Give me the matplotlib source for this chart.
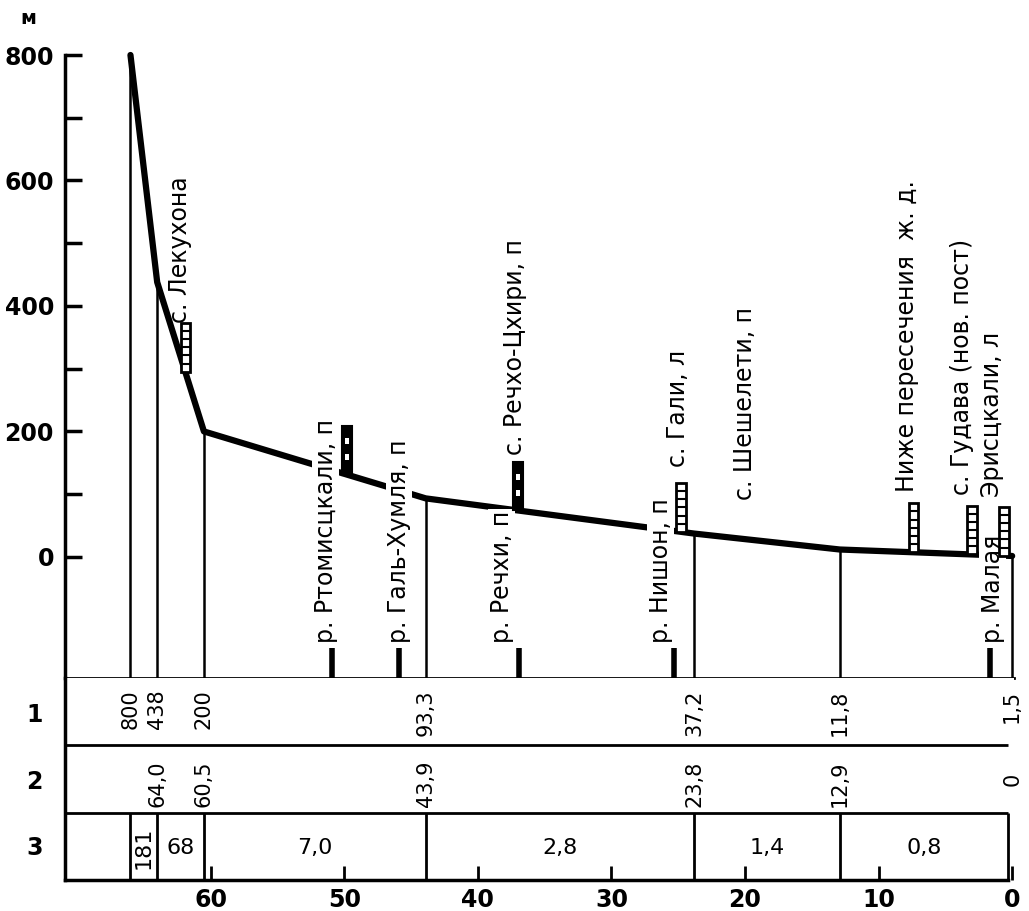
import numpy as np
import matplotlib.pyplot as plt
from matplotlib.patches import Rectangle

# продольный профиль реки: расстояние от устья (км) и отметки (м)
dist_km = [66.0, 64.0, 60.5, 43.9, 23.8, 12.9, 0.0]
elev_m = [800, 438, 200, 93.3, 37.2, 11.8, 1.5]
row1 = ['800', '438', '200', '93,3', '37,2', '11,8', '1,5']
row2 = ['', '64,0', '60,5', '43,9', '23,8', '12,9', '0']
row3 = ['181', '68', '7,0', '2,8', '1,4', '0,8']

# притоки
trib_names = ['р. Ртомисцкали, п', 'р. Галь-Хумля, п', 'р. Речхи, п', 'р. Нишон, п', 'р. Малая']
trib_km = [50.9, 45.9, 36.9, 25.3, 1.65]

# населённые пункты (km, тип значка)
sett_km = [61.9, 49.8, 37.0, 24.8, 7.4, 3.0, 0.6]
sett_kind = ['open', 'filled', 'filled', 'open', 'open', 'open', 'open']

# подписи над профилем: текст, км, отметка низа подписи
top_labels = ['с. Лекухона', 'с. Речхо-Цхири, п', 'с. Гали, л', 'с. Шешелети, п',
              'Ниже пересечения  ж. д.', 'с. Гудава (нов. пост)', 'Эрисцкали, л']
top_km = [62.3, 37.2, 25.0, 20.0, 7.9, 3.75, 1.5]
top_bottom = [373, 163, 143, 91, 104, 99, 96]

xl = (70.9, -0.1)
fig = plt.figure(figsize=(10.29, 9.11), dpi=100)
L, R = 65 / 1029, 1013.5 / 1029
ax = fig.add_axes([L, 233 / 911, R - L, 623 / 911])
tab = fig.add_axes([L, 31 / 911, R - L, 202 / 911])

ymin = -193
ax.set_xlim(*xl)
ax.set_ylim(ymin, 800)
for s in ['top', 'right']:
    ax.spines[s].set_visible(False)
ax.spines['left'].set_linewidth(2.5)
ax.spines['bottom'].set_linewidth(2)
ax.set_xticks([])
ax.set_yticks([0, 200, 400, 600, 800])
ax.set_yticks([100, 300, 500, 700], minor=True)
ax.tick_params(axis='y', which='both', direction='in', length=12, width=2.5,
               labelsize=17, pad=8)
for t in ax.get_yticklabels():
    t.set_fontweight('bold')

# профиль
ax.plot(dist_km, elev_m, color='black', lw=4.5, solid_joinstyle='round',
        solid_capstyle='round', clip_on=False, zorder=3)
ax.vlines(dist_km, ymin, elev_m, color='black', lw=1.8, zorder=2)

# притоки
ax.vlines(trib_km, ymin, -145, color='black', lw=4, zorder=2)
shift = [0.5, 0.0, 1.3, 1.0, -0.2]
for name, k, sh in zip(trib_names, trib_km, shift):
    ax.text(k + sh, -137, name, rotation=90, ha='center', va='bottom', fontsize=17,
            bbox=dict(facecolor='white', edgecolor='none', pad=1.0), zorder=4)

# значки населённых пунктов
w, h = 0.7, 78
for k, kind in zip(sett_km, sett_kind):
    base = np.interp(k, dist_km[::-1], elev_m[::-1])
    if kind == 'filled':
        ax.add_patch(Rectangle((k - w / 2, base), w, h, facecolor='black',
                               edgecolor='black', lw=1.5, zorder=5))
        for f in [0.3, 0.62]:
            ax.add_patch(Rectangle((k - w / 5, base + f * h), w * 0.4, h * 0.12,
                                   facecolor='white', edgecolor='none', zorder=6))
    else:
        ax.add_patch(Rectangle((k - w / 2, base), w, h, facecolor='white',
                               edgecolor='black', lw=2, zorder=5))
        ax.hlines(base + np.linspace(0, h, 7)[1:-1], k - w / 2, k + w / 2,
                  color='black', lw=1.5, zorder=6)

for name, k, b in zip(top_labels, top_km, top_bottom):
    ax.text(k, b, name, rotation=90, ha='center', va='bottom', fontsize=17, zorder=4)

# таблица
tab.set_xlim(*xl)
tab.set_ylim(0, 3)
for s in ['top', 'right']:
    tab.spines[s].set_visible(False)
tab.spines['left'].set_linewidth(2.5)
tab.spines['bottom'].set_linewidth(2.5)
tab.spines['bottom'].set_bounds(0.3, xl[0])
tab.set_yticks([])
tab.set_xticks(range(0, 70, 10))
tab.tick_params(axis='x', direction='in', length=10, width=2, labelsize=17, pad=6)
for t in tab.get_xticklabels():
    t.set_fontweight('bold')
tab.hlines([1, 2], 0.3, xl[0], color='black', lw=2)
tab.vlines(dist_km[:-1], 0, 1, color='black', lw=2)
tab.vlines(0.3, 0, 1, color='black', lw=2)

for k, v in zip(dist_km, row1):
    tab.text(k, 2.83, v, rotation=90, ha='center', va='top', fontsize=15)
for k, v in zip(dist_km, row2):
    if len(v) == 1:
        tab.text(k, 1.5, v, rotation=90, ha='center', va='center', fontsize=15)
    else:
        tab.text(k, 1.09, v, rotation=90, ha='center', va='bottom', fontsize=15)
edges = dist_km[:-1] + [0.3]
for i, v in enumerate(row3):
    mid = (edges[i] + edges[i + 1]) / 2
    tab.text(mid, 0.48, v, rotation=90 if i == 0 else 0, ha='center', va='center',
             fontsize=16)

for lab, y in zip(['1', '2', '3'], [0.817, 0.487, 0.158]):
    tab.text(-0.032, y, lab, transform=tab.transAxes, ha='center', va='center',
             fontsize=17, fontweight='bold')

fig.text(28 / 1029, 1 - 18 / 911, 'м', ha='center', va='center', fontsize=14,
         fontweight='bold')

plt.savefig('out.png', dpi=100)
